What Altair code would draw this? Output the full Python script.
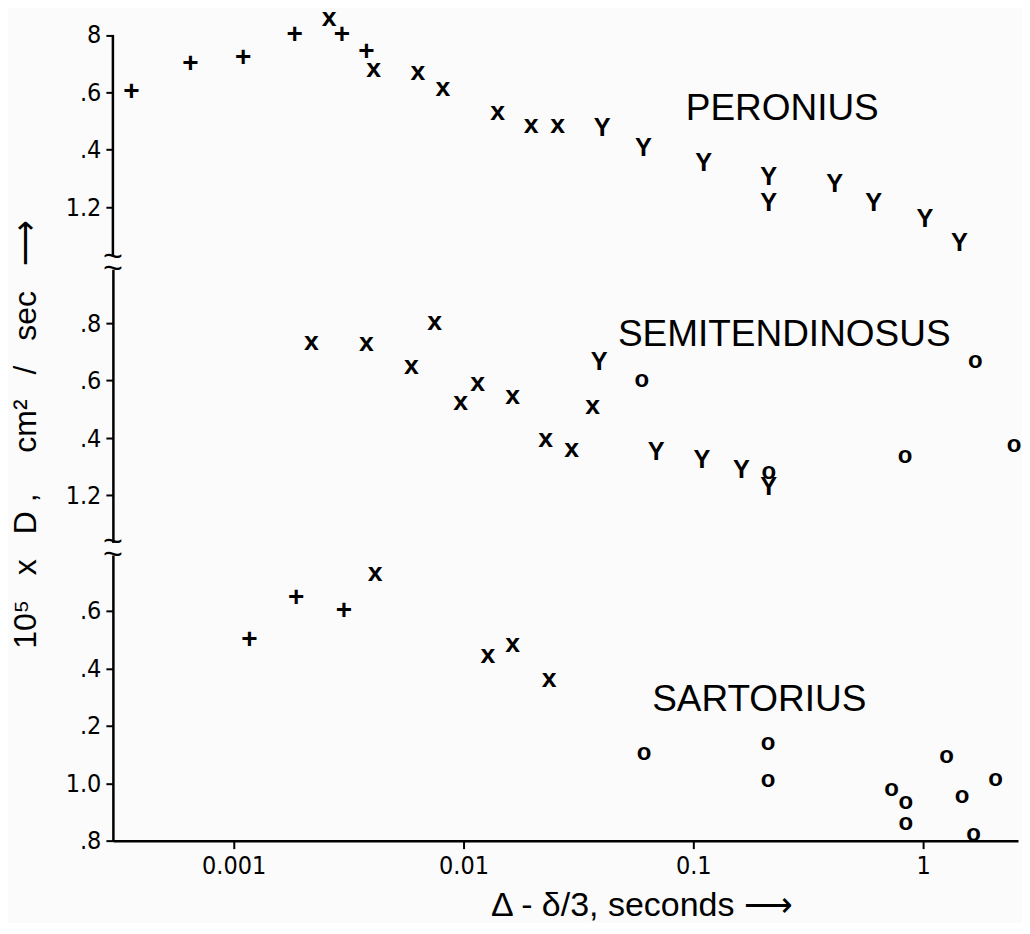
import altair as alt
import pandas as pd

# ---------------- data ----------------
# PERONIUS panel
per_x = [3.59e-4, 6.48e-4, 1.10e-3, 1.84e-3, 2.60e-3, 2.96e-3, 3.78e-3, 4.06e-3, 6.33e-3, 8.13e-3,
         0.0141, 0.0197, 0.0257, 0.0401, 0.0607, 0.111, 0.213, 0.213, 0.413, 0.610, 1.02, 1.44]
per_y = [1.60, 1.70, 1.72, 1.80, 1.86, 1.80, 1.74, 1.68, 1.67, 1.615,
         1.53, 1.485, 1.485, 1.475, 1.405, 1.355, 1.305, 1.215, 1.28, 1.215, 1.16, 1.075]
per_sym = ["+", "+", "+", "+", "x", "+", "+", "x", "x", "x",
           "x", "x", "x", "Y", "Y", "Y", "Y", "Y", "Y", "Y", "Y", "Y"]

# SEMITENDINOSUS panel
sem_x = [2.18e-3, 3.78e-3, 5.93e-3, 7.49e-3, 9.71e-3, 0.01154, 0.01637, 0.0228, 0.0296, 0.0365,
         0.039, 0.0597, 0.069, 0.109, 0.162, 0.213, 0.213, 0.836, 1.69, 2.49]
sem_y = [1.733, 1.730, 1.649, 1.805, 1.525, 1.592, 1.548, 1.395, 1.361, 1.510,
         1.666, 1.601, 1.351, 1.322, 1.290, 1.280, 1.231, 1.337, 1.667, 1.377]
sem_sym = ["x", "x", "x", "x", "x", "x", "x", "x", "x", "x",
           "Y", "o", "Y", "Y", "Y", "o", "Y", "o", "o", "o"]

# SARTORIUS panel
sar_x = [1.17e-3, 1.87e-3, 3.02e-3, 4.13e-3, 0.01276, 0.01637, 0.0236, 0.0611, 0.2115, 0.2115,
         0.730, 0.842, 0.842, 1.265, 1.48, 1.66, 2.07]
sar_y = [1.498, 1.646, 1.600, 1.731, 1.447, 1.486, 1.363, 1.105, 1.14, 1.01,
         0.978, 0.935, 0.86, 1.095, 0.955, 0.823, 1.015]
sar_sym = ["+", "+", "+", "x", "x", "x", "x", "o", "o", "o",
           "o", "o", "o", "o", "o", "o", "o"]

panel_names = ["PERONIUS", "SEMITENDINOSUS", "SARTORIUS"]

top_ticks = [1.2, 1.4, 1.6, 1.8]
top_labels = ["1.2", ".4", ".6", "8"]
mid_ticks = [1.2, 1.4, 1.6, 1.8]
mid_labels = ["1.2", ".4", ".6", ".8"]
bot_ticks = [0.8, 1.0, 1.2, 1.4, 1.6]
bot_labels = [".8", "1.0", ".2", ".4", ".6"]

x_ticks = [0.001, 0.01, 0.1, 1]
x_labels = ["0.001", "0.01", "0.1", "1"]

Y_TITLE = "10\u2075\u2002 x\u2002 D ,\u2002\u2002 cm\u00b2\u2002 /\u2002 sec\u2002 \u27f6"
X_TITLE = "\u0394 - \u03b4/3, seconds \u27f6"

# ---------------- styling / layout ----------------
FONT = "Liberation Sans"
TICK_FONT = "'Liberation Sans Narrow', 'DejaVu Sans Condensed', 'Liberation Sans'"
W = 906
X_DOMAIN = [0.000298, 2.59]
TOP_DOM, TOP_H = [1.0278, 1.8922], 248.5
MID_DOM, MID_H = [1.0365, 1.9878], 273.5
BOT_DOM, BOT_H = [0.8, 1.7948], 286

sym_domain = ["+", "x", "Y", "o"]
sym_sizes = [28, 24, 19, 26]


def label_expr(values, labels):
    parts = [f"datum.value == {v} ? '{l}'" for v, l in zip(values, labels)]
    return " : ".join(parts) + " : ''"


def panel(xs, ys, syms, dom, h, yaxis, xaxis, name, name_pos, breaks, axis_top=None):
    df = pd.DataFrame({"x": xs, "y": ys, "sym": syms})
    pts = alt.Chart(df).mark_text(
        font=FONT, fontWeight="bold", color="black", baseline="middle", align="center"
    ).encode(
        x=alt.X("x:Q", scale=alt.Scale(type="log", domain=X_DOMAIN, nice=False), axis=xaxis),
        y=alt.Y("y:Q", scale=alt.Scale(domain=dom, nice=False, zero=False), axis=yaxis),
        text="sym:N",
        size=alt.Size("sym:O", scale=alt.Scale(domain=sym_domain, range=sym_sizes), legend=None),
    )
    lab = alt.Chart(pd.DataFrame({"name": [name]})).mark_text(
        font=FONT, fontSize=37, color="black", baseline="middle", align="center"
    ).encode(x=alt.value(name_pos[0]), y=alt.value(name_pos[1]), text="name:N")
    layers = [pts, lab]
    for b in breaks:
        layers.append(
            alt.Chart(pd.DataFrame({"s": ["~"]})).mark_text(
                font=FONT, fontSize=34, color="black", baseline="middle", align="center"
            ).encode(x=alt.value(0), y=alt.value(b), text="s:N")
        )
    if axis_top is not None:
        layers.append(
            alt.Chart(pd.DataFrame({"s": [0]})).mark_rule(color="black", strokeWidth=2.5).encode(
                x=alt.value(0), y=alt.YDatum(axis_top, title=None), y2=alt.value(h)
            )
        )
    return alt.layer(*layers).properties(width=W, height=h)


top = panel(
    per_x, per_y, per_sym, TOP_DOM, TOP_H,
    alt.Axis(values=top_ticks, labelExpr=label_expr(top_ticks, top_labels), title=None, domain=False),
    None, panel_names[0], (670, 101), [TOP_H], axis_top=1.8,
)
mid = panel(
    sem_x, sem_y, sem_sym, MID_DOM, MID_H,
    alt.Axis(values=mid_ticks, labelExpr=label_expr(mid_ticks, mid_labels), title=Y_TITLE,
             titleX=-70, titleY=165, titleAngle=270, titleBaseline="bottom", titleAlign="center",
             titleFontSize=32),
    None, panel_names[1], (672, 65.5), [0, MID_H],
)
bot = panel(
    sar_x, sar_y, sar_sym, BOT_DOM, BOT_H,
    alt.Axis(values=bot_ticks, labelExpr=label_expr(bot_ticks, bot_labels), title=None),
    alt.Axis(values=x_ticks, labelExpr=label_expr(x_ticks, x_labels), title=X_TITLE,
             titleX=529, titleY=65, titleBaseline="middle", titleAlign="center", titleFontSize=34,
             tickSize=8, labelPadding=5, labelFontSize=25),
    panel_names[2], (647, 145), [0],
)

chart = alt.vconcat(top, mid, bot, spacing=12, bounds="flush").resolve_scale(
    y="independent"
).configure(
    background="#fbfbfb", padding={"left": 1, "top": -4, "right": 0, "bottom": 0}, font=FONT
).configure_view(stroke=None).configure_axis(
    domainColor="black", domainWidth=2.5, tickColor="black", tickWidth=2, tickSize=7,
    labelColor="black", labelFont=TICK_FONT, labelFontSize=25, labelPadding=5, grid=False,
    titleColor="black", titleFont=FONT, titleFontWeight="normal",
)

chart.save("out.html", embed_options={"renderer": "svg", "actions": False})
